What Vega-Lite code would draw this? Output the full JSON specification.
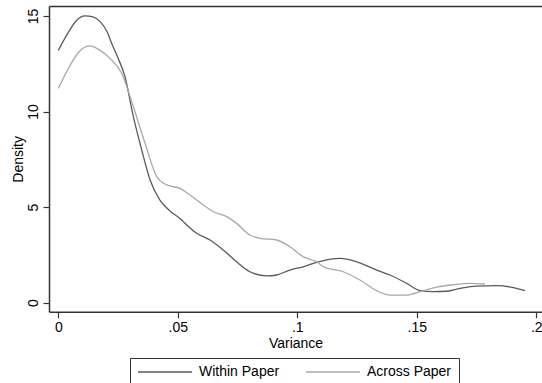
{
  "$schema": "https://vega.github.io/schema/vega-lite/v6.json",
  "width": 493,
  "height": 305.7,
  "autosize": {"type": "none"},
  "padding": {"left": 49, "top": 6, "right": 0, "bottom": 71.3},
  "background": "white",
  "config": {
    "view": {"stroke": null},
    "font": "Liberation Sans",
    "axis": {
      "grid": false,
      "domainColor": "#333333",
      "domainWidth": 1.5,
      "tickColor": "#333333",
      "tickWidth": 1.2,
      "tickSize": 6,
      "labelColor": "#000000",
      "titleColor": "#000000",
      "labelFont": "Liberation Sans",
      "titleFont": "Liberation Sans",
      "labelFontSize": 14,
      "titleFontSize": 14,
      "titleFontWeight": "normal"
    },
    "legend": {
      "labelFont": "Liberation Sans",
      "labelFontSize": 14,
      "labelColor": "#000000"
    }
  },
  "data": {
    "values": [
      {"v": 0, "d": 13.2, "s": "Within Paper"},
      {"v": 0.004, "d": 14.1, "s": "Within Paper"},
      {"v": 0.0075, "d": 14.75, "s": "Within Paper"},
      {"v": 0.0112, "d": 15.0, "s": "Within Paper"},
      {"v": 0.0145, "d": 14.95, "s": "Within Paper"},
      {"v": 0.0175, "d": 14.7, "s": "Within Paper"},
      {"v": 0.0205, "d": 14.15, "s": "Within Paper"},
      {"v": 0.0223, "d": 13.57, "s": "Within Paper"},
      {"v": 0.025, "d": 12.8, "s": "Within Paper"},
      {"v": 0.0279, "d": 11.82, "s": "Within Paper"},
      {"v": 0.0314, "d": 9.73, "s": "Within Paper"},
      {"v": 0.0349, "d": 7.99, "s": "Within Paper"},
      {"v": 0.0384, "d": 6.42, "s": "Within Paper"},
      {"v": 0.0425, "d": 5.37, "s": "Within Paper"},
      {"v": 0.0467, "d": 4.8, "s": "Within Paper"},
      {"v": 0.0509, "d": 4.41, "s": "Within Paper"},
      {"v": 0.0523, "d": 4.24, "s": "Within Paper"},
      {"v": 0.0579, "d": 3.63, "s": "Within Paper"},
      {"v": 0.0635, "d": 3.28, "s": "Within Paper"},
      {"v": 0.069, "d": 2.76, "s": "Within Paper"},
      {"v": 0.0746, "d": 2.14, "s": "Within Paper"},
      {"v": 0.0802, "d": 1.62, "s": "Within Paper"},
      {"v": 0.0872, "d": 1.4, "s": "Within Paper"},
      {"v": 0.0914, "d": 1.45, "s": "Within Paper"},
      {"v": 0.0969, "d": 1.71, "s": "Within Paper"},
      {"v": 0.1025, "d": 1.88, "s": "Within Paper"},
      {"v": 0.1088, "d": 2.14, "s": "Within Paper"},
      {"v": 0.1179, "d": 2.32, "s": "Within Paper"},
      {"v": 0.1249, "d": 2.14, "s": "Within Paper"},
      {"v": 0.1332, "d": 1.71, "s": "Within Paper"},
      {"v": 0.1388, "d": 1.45, "s": "Within Paper"},
      {"v": 0.1458, "d": 1.01, "s": "Within Paper"},
      {"v": 0.1513, "d": 0.63, "s": "Within Paper"},
      {"v": 0.1569, "d": 0.58, "s": "Within Paper"},
      {"v": 0.1625, "d": 0.6, "s": "Within Paper"},
      {"v": 0.1681, "d": 0.75, "s": "Within Paper"},
      {"v": 0.1751, "d": 0.87, "s": "Within Paper"},
      {"v": 0.1834, "d": 0.89, "s": "Within Paper"},
      {"v": 0.1904, "d": 0.79, "s": "Within Paper"},
      {"v": 0.1953, "d": 0.63, "s": "Within Paper"},
      {"v": 0, "d": 11.21, "s": "Across Paper"},
      {"v": 0.004, "d": 12.2, "s": "Across Paper"},
      {"v": 0.0085, "d": 13.1, "s": "Across Paper"},
      {"v": 0.013, "d": 13.43, "s": "Across Paper"},
      {"v": 0.0175, "d": 13.2, "s": "Across Paper"},
      {"v": 0.0216, "d": 12.78, "s": "Across Paper"},
      {"v": 0.0265, "d": 12.0, "s": "Across Paper"},
      {"v": 0.0314, "d": 10.25, "s": "Across Paper"},
      {"v": 0.0363, "d": 8.34, "s": "Across Paper"},
      {"v": 0.0412, "d": 6.59, "s": "Across Paper"},
      {"v": 0.0454, "d": 6.16, "s": "Across Paper"},
      {"v": 0.0509, "d": 5.98, "s": "Across Paper"},
      {"v": 0.0551, "d": 5.63, "s": "Across Paper"},
      {"v": 0.0607, "d": 5.11, "s": "Across Paper"},
      {"v": 0.0649, "d": 4.76, "s": "Across Paper"},
      {"v": 0.0705, "d": 4.5, "s": "Across Paper"},
      {"v": 0.0746, "d": 4.15, "s": "Across Paper"},
      {"v": 0.0802, "d": 3.54, "s": "Across Paper"},
      {"v": 0.0844, "d": 3.37, "s": "Across Paper"},
      {"v": 0.0914, "d": 3.28, "s": "Across Paper"},
      {"v": 0.0969, "d": 2.93, "s": "Across Paper"},
      {"v": 0.1025, "d": 2.41, "s": "Across Paper"},
      {"v": 0.1081, "d": 2.14, "s": "Across Paper"},
      {"v": 0.1109, "d": 1.88, "s": "Across Paper"},
      {"v": 0.1192, "d": 1.62, "s": "Across Paper"},
      {"v": 0.1262, "d": 1.19, "s": "Across Paper"},
      {"v": 0.1332, "d": 0.63, "s": "Across Paper"},
      {"v": 0.1388, "d": 0.4, "s": "Across Paper"},
      {"v": 0.1458, "d": 0.4, "s": "Across Paper"},
      {"v": 0.1527, "d": 0.63, "s": "Across Paper"},
      {"v": 0.1583, "d": 0.81, "s": "Across Paper"},
      {"v": 0.1653, "d": 0.94, "s": "Across Paper"},
      {"v": 0.1723, "d": 1.01, "s": "Across Paper"},
      {"v": 0.1785, "d": 0.98, "s": "Across Paper"}
    ]
  },
  "layer": [
    {
      "mark": {"type": "line", "interpolate": "monotone", "strokeWidth": 1.3, "clip": true},
      "encoding": {
        "x": {
          "field": "v", "type": "quantitative",
          "scale": {"domain": [-0.0039, 0.2024], "nice": false, "zero": false},
          "axis": {
            "values": [0, 0.05, 0.1, 0.15, 0.2],
            "labelExpr": "datum.value == 0 ? '0' : substring(format(datum.value, '.2~f'), 1)",
            "title": "Variance",
            "labelPadding": 3,
            "titlePadding": 2,
            "labelFlush": false
          }
        },
        "y": {
          "field": "d", "type": "quantitative",
          "scale": {"domain": [-0.47, 15.52], "nice": false, "zero": false},
          "axis": {
            "values": [0, 5, 10, 15],
            "labelAngle": -90,
            "labelAlign": "center",
            "labelBaseline": "bottom",
            "labelPadding": 3,
            "title": "Density",
            "titlePadding": 1,
            "labelFlush": false
          }
        },
        "color": {
          "field": "s", "type": "nominal",
          "scale": {"domain": ["Within Paper", "Across Paper"], "range": ["#5a5a5a", "#a8a8a8"]},
          "legend": {
            "title": null,
            "orient": "none",
            "legendX": 81,
            "legendY": 352,
            "direction": "horizontal",
            "strokeColor": "#333333",
            "fillColor": "white",
            "padding": 7,
            "symbolType": "M-5,0H5",
            "symbolSize": 116.64,
            "symbolStrokeWidth": 1.3,
            "symbolOffset": 21,
            "labelOffset": 27,
            "columnPadding": 23
          }
        }
      }
    },
    {
      "mark": {"type": "point", "opacity": 0},
      "encoding": {
        "x": {
          "field": "v", "type": "quantitative",
          "axis": {"orient": "top", "labels": false, "ticks": false, "title": null, "domainColor": "#333333", "domainWidth": 1.5}
        },
        "y": {"field": "d", "type": "quantitative"}
      }
    }
  ],
  "resolve": {"axis": {"x": "independent"}}
}
